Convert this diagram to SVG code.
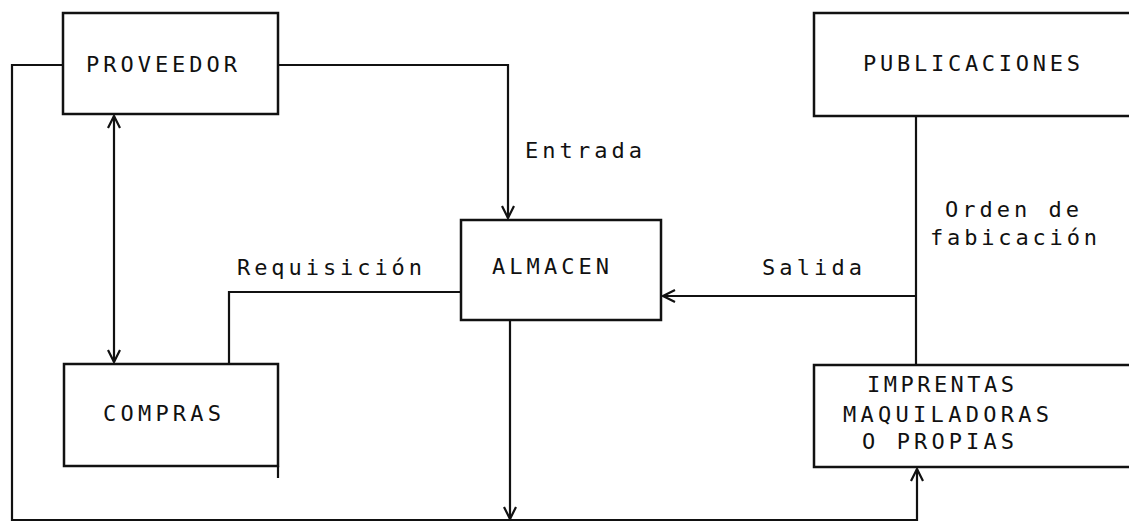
<svg xmlns="http://www.w3.org/2000/svg" width="1129" height="523" viewBox="0 0 1129 523">
<defs>
<style>
.box{fill:none;stroke:#111;stroke-width:2.5}
.ln{fill:none;stroke:#111;stroke-width:2.2}
.t{font-family:"DejaVu Sans Mono","Liberation Mono",monospace;font-size:22px;fill:#111}
</style>
<marker id="ah" viewBox="0 0 14 14" refX="13" refY="7" markerWidth="14" markerHeight="14" markerUnits="userSpaceOnUse" orient="auto">
<path d="M1,1 L13,7 L1,13" fill="none" stroke="#111" stroke-width="2.2"/>
</marker>
<marker id="ahs" viewBox="0 0 14 14" refX="1" refY="7" markerWidth="14" markerHeight="14" markerUnits="userSpaceOnUse" orient="auto">
<path d="M13,1 L1,7 L13,13" fill="none" stroke="#111" stroke-width="2.2"/>
</marker>
</defs>
<rect width="1129" height="523" fill="#fff"/>
<g id="connectors">
<path class="ln" d="M63,65 H12 V520 H917 V469" marker-end="url(#ah)"/>
<path class="ln" d="M278,65 H508 V218" marker-end="url(#ah)"/>
<path class="ln" d="M114,116 V362" marker-start="url(#ahs)" marker-end="url(#ah)"/>
<path class="ln" d="M461,292 H229 V364"/>
<path class="ln" d="M510,320 V519" marker-end="url(#ah)"/>
<path class="ln" d="M916,116 V365"/>
<path class="ln" d="M916,296 H663" marker-end="url(#ah)"/>
<path class="ln" d="M278,466 V478" stroke-width="1.5"/>
<text class="t" x="525" y="158" textLength="117" lengthAdjust="spacing">Entrada</text>
<text class="t" x="237" y="275" textLength="185" lengthAdjust="spacing">Requisición</text>
<text class="t" x="762" y="275" textLength="100" lengthAdjust="spacing">Salida</text>
<text class="t" x="945" y="217" textLength="134" lengthAdjust="spacing">Orden de</text>
<text class="t" x="930" y="245" textLength="167" lengthAdjust="spacing">fabicación</text>
</g>
<g id="proveedor">
<rect class="box" x="63" y="13" width="215" height="101"/>
<text class="t" x="86" y="72" textLength="151" lengthAdjust="spacing">PROVEEDOR</text>
</g>
<g id="almacen">
<rect class="box" x="461" y="220" width="200" height="100"/>
<text class="t" x="492" y="274" textLength="117" lengthAdjust="spacing">ALMACEN</text>
</g>
<g id="compras">
<rect class="box" x="64" y="364" width="214" height="102"/>
<text class="t" x="103" y="421" textLength="118" lengthAdjust="spacing">COMPRAS</text>
</g>
<g id="publicaciones">
<rect class="box" x="814" y="13" width="330" height="103"/>
<text class="t" x="863" y="71" textLength="217" lengthAdjust="spacing">PUBLICACIONES</text>
</g>
<g id="imprentas">
<rect class="box" x="814" y="365" width="330" height="102"/>
<text class="t" x="867" y="392" textLength="147" lengthAdjust="spacing">IMPRENTAS</text>
<text class="t" x="843" y="422" textLength="206" lengthAdjust="spacing">MAQUILADORAS</text>
<text class="t" x="862" y="449" textLength="152" lengthAdjust="spacing">O PROPIAS</text>
</g>
</svg>
